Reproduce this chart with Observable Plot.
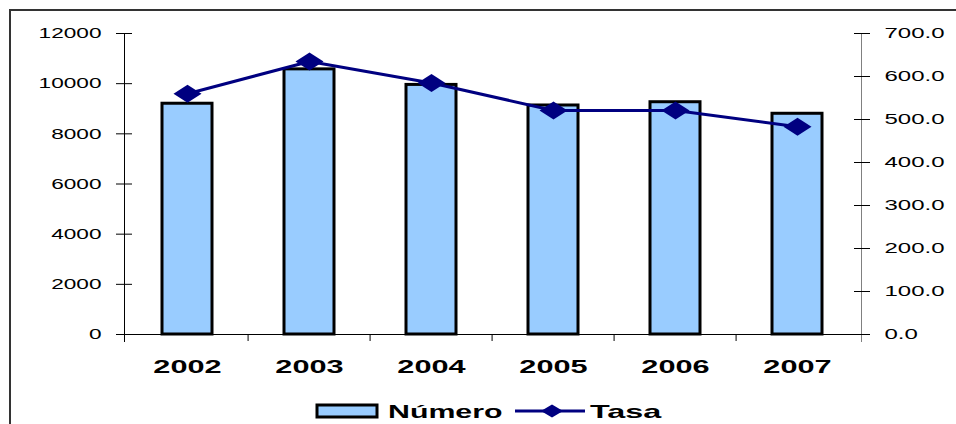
<!DOCTYPE html>
<html><head><meta charset="utf-8">
<script src="https://cdn.jsdelivr.net/npm/d3@7"></script>
<script src="https://cdn.jsdelivr.net/npm/@observablehq/plot@0.6"></script>
<style>
body{margin:0;background:#fff;}
#wrap{position:relative;width:956px;height:424px;overflow:hidden;font-family:"Liberation Sans",Arial,sans-serif;}
#frame{position:absolute;left:9px;top:9px;width:1000px;height:500px;border-left:2px solid #333;border-top:2px solid #333;}
#chart{position:absolute;left:0;top:0;}
#legend{position:absolute;left:0;top:390px;}
</style></head><body>
<div id="wrap"><div id="frame"></div><div id="chart"></div><div id="legend"></div></div>
<script>
const years = ["2002", "2003", "2004", "2005", "2006", "2007"];
const numero = [9200, 10570, 9950, 9130, 9260, 8800];
const tasa = [560, 635, 585, 521, 521, 483];
const leftTicks = [0, 2000, 4000, 6000, 8000, 10000, 12000];
const rightTicks = [0, 100, 200, 300, 400, 500, 600, 700];
const seriesNames = ["Número", "Tasa"];

const k = 12000 / 700; // right axis (Tasa) mapped onto left scale
const data = years.map((y, i) => ({year: y, numero: numero[i], tasa: tasa[i]}));

function diamond(w, h) {
  return {draw(ctx) { ctx.moveTo(-w, 0); ctx.lineTo(0, -h); ctx.lineTo(w, 0); ctx.lineTo(0, h); ctx.closePath(); }};
}

const W = 956, H = 385, ML = 124, MR = 95;
const step = (W - ML - MR) / years.length;

const plot = Plot.plot({
  width: W, height: H,
  marginLeft: ML, marginRight: MR, marginTop: 33, marginBottom: 51,
  style: {fontFamily: "Liberation Sans, Arial, sans-serif", background: "transparent", overflow: "visible", color: "#000"},
  x: {domain: years, paddingInner: 0.59, paddingOuter: 0.295, label: null, axis: null},
  y: {domain: [0, 12000], label: null, axis: null},
  marks: [
    Plot.barY(data, {x: "year", y: "numero", fill: "#99CCFF", stroke: "#000", strokeWidth: 3}),
    Plot.frame({anchor: "left", stroke: "#000", insetBottom: -7}),
    Plot.frame({anchor: "right", stroke: "#808080", insetBottom: -7}),
    Plot.ruleY([0], {stroke: "#000", insetLeft: -8, insetRight: -9}),
    Plot.axisY({ticks: leftTicks, tickSize: 16, dx: 8, tickFormat: () => "", stroke: "#000"}),
    Plot.axisY({ticks: leftTicks, tickSize: 0, tickPadding: 23, tickFormat: d3.format("d"), fontSize: 15, fill: "#000"}),
    Plot.axisY({anchor: "right", ticks: rightTicks.map(v => v * k), tickSize: 16, dx: -8, tickFormat: () => "", stroke: "#000"}),
    Plot.axisY({anchor: "right", ticks: rightTicks.map(v => v * k), tickSize: 0, tickPadding: 23, tickFormat: d => (d / k).toFixed(1), fontSize: 15, fill: "#000"}),
    Plot.axisX({ticks: years.slice(1), tickSize: 7, dx: -step / 2, tickFormat: () => "", stroke: "#000"}),
    Plot.axisX({tickSize: 0, tickPadding: 25, fontSize: 18.5, fontWeight: "bold", fill: "#000"}),
    Plot.line(data, {x: "year", y: d => d.tasa * k, stroke: "#000080", strokeWidth: 3}),
    Plot.dot(data, {x: "year", y: d => d.tasa * k, symbol: diamond(14, 9), fill: "#000080", stroke: "none"})
  ]
});
document.getElementById("chart").appendChild(plot);

// horizontal stretch of text around its anchor (the reference font is wide)
function stretch(sel, s) {
  sel.each(function() {
    const t = d3.select(this);
    const xs = t.attr("x");
    const tr = t.attr("transform") || "";
    if (xs != null && /^-?[\d.]+$/.test(xs.trim())) {
      const x = +xs;
      t.attr("x", 0).attr("transform", `${tr} translate(${x},0) scale(${s},1)`);
    } else {
      t.attr("transform", `${tr} scale(${s},1)`);
    }
  });
}
const svg = d3.select(plot);
svg.selectAll('g[aria-label="y-axis tick label"] text').each(function() {
  const t = d3.select(this);
  if (t.text() === "") return;
  const anchor = this.closest("g").getAttribute("text-anchor") || t.attr("text-anchor");
  stretch(t, anchor === "start" ? 1.6 : 1.51);
});
stretch(svg.selectAll('g[aria-label="x-axis tick label"] text'), 1.66);

// legend
const lg = d3.select("#legend").append("svg").attr("width", 956).attr("height", 34)
  .style("font-family", "Liberation Sans, Arial, sans-serif");
lg.append("rect").attr("x", 317).attr("y", 15).attr("width", 60).attr("height", 12)
  .attr("fill", "#99CCFF").attr("stroke", "#000").attr("stroke-width", 3);
stretch(lg.append("text").attr("x", 388).attr("y", 28).attr("font-size", 18.5).attr("font-weight", "bold").text(seriesNames[0]), 1.64);
lg.append("line").attr("x1", 515).attr("x2", 585).attr("y1", 21).attr("y2", 21).attr("stroke", "#000080").attr("stroke-width", 3);
lg.append("path").attr("transform", "translate(552,21)").attr("d", "M-11,0L0,-6.5L11,0L0,6.5Z").attr("fill", "#000080");
stretch(lg.append("text").attr("x", 590).attr("y", 28).attr("font-size", 18.5).attr("font-weight", "bold").text(seriesNames[1]), 1.75);
</script>
</body></html>
